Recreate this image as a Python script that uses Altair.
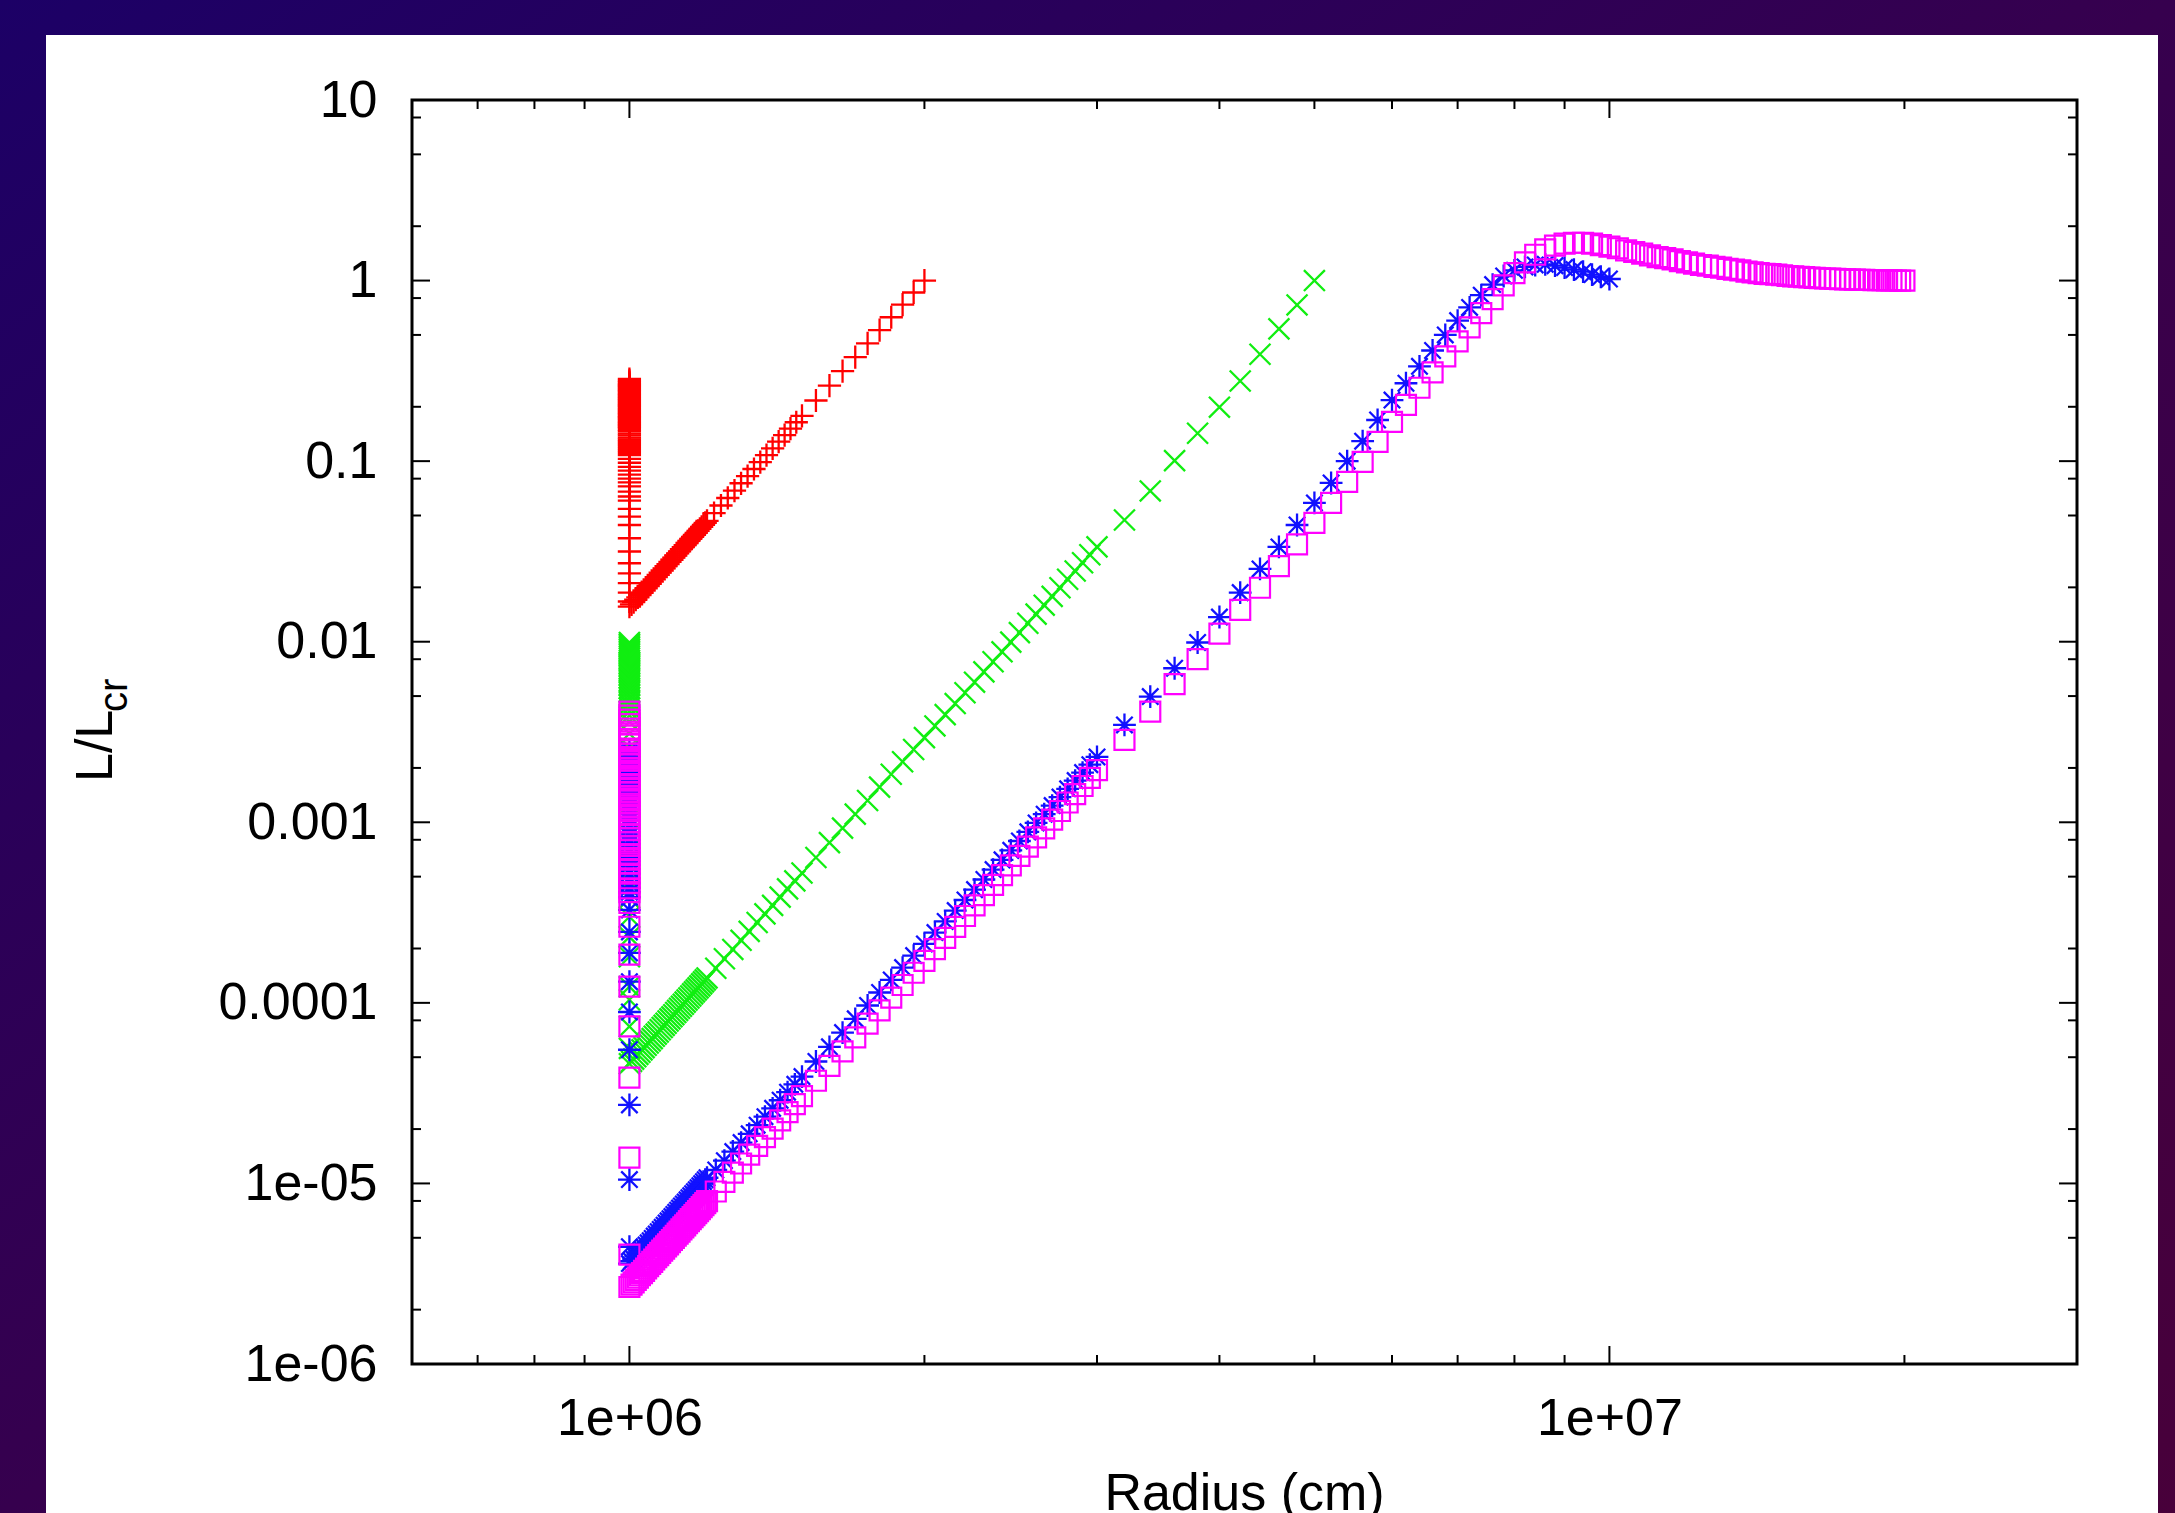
import altair as alt
import pandas as pd

W, H = 1665, 1264
FONT = "Liberation Sans"

# ---------------- data (radius in cm, L/Lcr) ----------------
R_COLUMN = 1.0e6

R_DENSE = [1.000e6, 1.005e6, 1.010e6, 1.015e6, 1.020e6, 1.025e6, 1.030e6, 1.035e6, 1.040e6, 1.045e6,
           1.050e6, 1.055e6, 1.060e6, 1.065e6, 1.070e6, 1.075e6, 1.080e6, 1.085e6, 1.090e6, 1.095e6,
           1.100e6, 1.105e6, 1.110e6, 1.115e6, 1.120e6, 1.125e6, 1.130e6, 1.135e6, 1.140e6, 1.145e6,
           1.150e6, 1.155e6, 1.160e6, 1.165e6, 1.170e6, 1.175e6, 1.180e6, 1.185e6, 1.190e6, 1.195e6,
           1.200e6]

R_MID = [1.225e6, 1.250e6, 1.275e6, 1.300e6, 1.325e6, 1.350e6, 1.375e6, 1.400e6, 1.425e6, 1.450e6,
         1.475e6, 1.500e6, 1.55e6, 1.60e6, 1.65e6, 1.70e6, 1.75e6, 1.80e6, 1.85e6, 1.90e6,
         1.95e6, 2.00e6, 2.05e6, 2.10e6, 2.15e6, 2.20e6, 2.25e6, 2.30e6, 2.35e6, 2.40e6,
         2.45e6, 2.50e6, 2.55e6, 2.60e6, 2.65e6, 2.70e6, 2.75e6, 2.80e6, 2.85e6, 2.90e6,
         2.95e6, 3.00e6]

# red (+)
RED_COLUMN = [0.285, 0.278, 0.273, 0.268, 0.264, 0.260, 0.256, 0.252, 0.248, 0.244, 0.240, 0.236,
              0.232, 0.228, 0.225, 0.221, 0.218, 0.214, 0.211, 0.207, 0.204, 0.201, 0.198, 0.194,
              0.191, 0.188, 0.185, 0.182, 0.179, 0.176, 0.174, 0.171, 0.168, 0.165, 0.163, 0.160,
              0.158, 0.155, 0.153, 0.149, 0.146, 0.142, 0.139, 0.135, 0.132, 0.129, 0.126, 0.123,
              0.120, 0.117, 0.114, 0.111, 0.108, 0.103, 0.098, 0.093, 0.0885, 0.0842, 0.0801,
              0.0762, 0.0724, 0.0678, 0.0637, 0.0605, 0.0544, 0.0493, 0.0443, 0.0374, 0.0316,
              0.0272, 0.0239, 0.0211, 0.0187, 0.0167]
RED_DENSE = [0.01563, 0.01610, 0.01659, 0.01708, 0.01760, 0.01812, 0.01866, 0.01921, 0.01977, 0.02035,
             0.02094, 0.02154, 0.02216, 0.02280, 0.02345, 0.02411, 0.02480, 0.02549, 0.02620, 0.02693,
             0.02768, 0.02844, 0.02923, 0.03002, 0.03084, 0.03168, 0.03253, 0.03340, 0.03430, 0.03521,
             0.03614, 0.03710, 0.03807, 0.03906, 0.04008, 0.04112, 0.04218, 0.04327, 0.04437, 0.04550,
             0.04666]
RED_OUTER = [(1.22e6, 0.05152), (1.24e6, 0.05680), (1.26e6, 0.06252), (1.28e6, 0.06872),
             (1.30e6, 0.07542), (1.32e6, 0.08265), (1.34e6, 0.09046), (1.36e6, 0.09887),
             (1.38e6, 0.1079), (1.40e6, 0.1177), (1.42e6, 0.1281), (1.44e6, 0.1393),
             (1.46e6, 0.1513), (1.48e6, 0.1642), (1.50e6, 0.1780), (1.55e6, 0.2167),
             (1.60e6, 0.2621), (1.65e6, 0.3153), (1.70e6, 0.3772), (1.75e6, 0.4488),
             (1.80e6, 0.5314), (1.85e6, 0.6264), (1.90e6, 0.7351), (1.95e6, 0.8591),
             (2.00e6, 1.000)]

# green (x)
GREEN_COLUMN = [0.0099, 0.0097, 0.0095, 0.0093, 0.0091, 0.0089, 0.0087, 0.0085, 0.0083, 0.0081,
                0.0079, 0.0077, 0.0075, 0.0073, 0.0071, 0.0069, 0.0067, 0.0065, 0.0063, 0.0061,
                0.0059, 0.0057, 0.0055, 0.0053, 0.0051, 0.0049, 0.0047, 0.0045, 0.0043, 0.0041,
                0.0039, 0.0036, 0.0031, 0.0026, 0.0022, 0.0018, 0.0015, 0.00125, 0.00104, 8.6e-4,
                7.1e-4, 5.8e-4, 4.7e-4, 3.8e-4, 3.0e-4, 2.32e-4, 1.8e-4, 1.23e-4, 1.04e-4, 7.4e-5,
                5.6e-5]
GREEN_DENSE = [4.60e-5, 4.74e-5, 4.88e-5, 5.03e-5, 5.18e-5, 5.33e-5, 5.49e-5, 5.65e-5, 5.82e-5, 5.99e-5,
               6.16e-5, 6.34e-5, 6.53e-5, 6.71e-5, 6.90e-5, 7.10e-5, 7.30e-5, 7.50e-5, 7.71e-5, 7.93e-5,
               8.15e-5, 8.37e-5, 8.60e-5, 8.84e-5, 9.08e-5, 9.33e-5, 9.58e-5, 9.83e-5, 1.010e-4, 1.037e-4,
               1.064e-4, 1.092e-4, 1.121e-4, 1.150e-4, 1.180e-4, 1.211e-4, 1.242e-4, 1.274e-4, 1.306e-4,
               1.340e-4, 1.374e-4]
GREEN_MID = [1.554e-4, 1.755e-4, 1.976e-4, 2.220e-4, 2.489e-4, 2.785e-4, 3.109e-4, 3.464e-4, 3.852e-4,
             4.276e-4, 4.737e-4, 5.240e-4, 6.379e-4, 7.717e-4, 9.282e-4, 1.110e-3, 1.321e-3, 1.565e-3,
             1.844e-3, 2.164e-3, 2.529e-3, 2.944e-3, 3.416e-3, 3.945e-3, 4.544e-3, 5.216e-3, 5.969e-3,
             6.810e-3, 7.747e-3, 8.791e-3, 9.949e-3, 1.123e-2, 1.265e-2, 1.421e-2, 1.593e-2, 1.782e-2,
             1.990e-2, 2.217e-2, 2.465e-2, 2.736e-2, 3.031e-2, 3.353e-2]
GREEN_OUTER = [(3.2e6, 0.0472), (3.4e6, 0.0684), (3.6e6, 0.1007), (3.8e6, 0.1427), (4.0e6, 0.199),
               (4.2e6, 0.278), (4.4e6, 0.391), (4.6e6, 0.540), (4.8e6, 0.733), (5.0e6, 1.0)]

# blue (*)
BLUE_COLUMN = [0.0025, 0.0024, 0.0023, 0.0022, 0.0021, 0.0020, 0.0019, 0.0018, 0.0017, 0.0016,
               0.00153, 0.00147, 0.00141, 0.00135, 0.00129, 0.00123, 0.00117, 0.00112, 0.00107,
               0.00102, 9.7e-4, 9.3e-4, 8.8e-4, 8.4e-4, 8.0e-4, 7.6e-4, 7.2e-4, 6.8e-4, 6.4e-4,
               6.1e-4, 5.8e-4, 5.5e-4, 5.2e-4, 4.9e-4, 4.6e-4, 4.35e-4, 4.1e-4, 3.85e-4,
               3.27e-4, 2.47e-4, 1.89e-4, 1.31e-4, 8.9e-5, 5.5e-5, 2.72e-5, 1.05e-5, 4.46e-6]
BLUE_DENSE = [3.60e-6, 3.71e-6, 3.82e-6, 3.94e-6, 4.05e-6, 4.17e-6, 4.30e-6, 4.43e-6, 4.56e-6, 4.69e-6,
              4.82e-6, 4.96e-6, 5.11e-6, 5.25e-6, 5.40e-6, 5.56e-6, 5.71e-6, 5.87e-6, 6.04e-6, 6.21e-6,
              6.38e-6, 6.55e-6, 6.73e-6, 6.92e-6, 7.11e-6, 7.30e-6, 7.50e-6, 7.70e-6, 7.90e-6, 8.11e-6,
              8.33e-6, 8.55e-6, 8.77e-6, 9.00e-6, 9.23e-6, 9.47e-6, 9.72e-6, 9.97e-6, 1.022e-5, 1.048e-5,
              1.075e-5]
BLUE_MID = [1.187e-5, 1.337e-5, 1.502e-5, 1.684e-5, 1.883e-5, 2.102e-5, 2.342e-5, 2.604e-5, 2.889e-5,
            3.200e-5, 3.538e-5, 3.906e-5, 4.735e-5, 5.709e-5, 6.841e-5, 8.154e-5, 9.670e-5, 1.141e-4,
            1.340e-4, 1.568e-4, 1.827e-4, 2.120e-4, 2.451e-4, 2.824e-4, 3.244e-4, 3.713e-4, 4.238e-4,
            4.822e-4, 5.473e-4, 6.193e-4, 6.991e-4, 7.875e-4, 8.848e-4, 9.916e-4, 1.109e-3, 1.238e-3,
            1.379e-3, 1.533e-3, 1.701e-3, 1.884e-3, 2.084e-3, 2.300e-3]
BLUE_OUTER = [(3.2e6, 3.46e-3), (3.4e6, 4.97e-3), (3.6e6, 7.13e-3), (3.8e6, 9.9e-3), (4.0e6, 0.0137),
              (4.2e6, 0.0187), (4.4e6, 0.0253), (4.6e6, 0.0335), (4.8e6, 0.0443), (5.0e6, 0.0587),
              (5.2e6, 0.0757), (5.4e6, 0.100), (5.6e6, 0.129), (5.8e6, 0.169), (6.0e6, 0.218),
              (6.2e6, 0.27), (6.4e6, 0.335), (6.6e6, 0.41), (6.8e6, 0.50), (7.0e6, 0.60),
              (7.2e6, 0.71), (7.4e6, 0.83), (7.6e6, 0.95), (7.8e6, 1.06), (8.0e6, 1.14),
              (8.2e6, 1.19), (8.4e6, 1.22), (8.6e6, 1.23), (8.8e6, 1.21), (9.0e6, 1.18),
              (9.2e6, 1.15), (9.4e6, 1.12), (9.6e6, 1.08), (9.8e6, 1.05), (10.0e6, 1.02)]

# magenta (open squares)
MAGENTA_COLUMN = [0.0041, 0.0039, 0.0037, 0.0035, 0.0033, 0.0031, 0.0029, 0.0028, 0.0027, 0.0025,
                  0.0024, 0.0023, 0.0022, 0.0021, 0.0020, 0.0019, 0.0018, 0.00175, 0.0017, 0.0016,
                  0.00153, 0.00146, 0.0014, 0.00133, 0.00127, 0.00121, 0.00115, 0.0011, 0.00105,
                  0.001, 9.5e-4, 9.1e-4, 8.6e-4, 8.2e-4, 7.8e-4, 7.4e-4, 7.0e-4, 6.6e-4, 6.2e-4,
                  5.9e-4, 5.5e-4, 5.2e-4, 4.9e-4, 4.6e-4, 4.3e-4, 4.1e-4, 3.58e-4, 2.64e-4, 1.85e-4,
                  1.23e-4, 7.4e-5, 3.85e-5, 1.39e-5, 4.03e-6]
MAGENTA_DENSE = [2.67e-6, 2.75e-6, 2.83e-6, 2.92e-6, 3.01e-6, 3.10e-6, 3.19e-6, 3.28e-6, 3.38e-6, 3.48e-6,
                 3.58e-6, 3.68e-6, 3.79e-6, 3.90e-6, 4.01e-6, 4.12e-6, 4.24e-6, 4.36e-6, 4.48e-6, 4.60e-6,
                 4.73e-6, 4.86e-6, 4.99e-6, 5.13e-6, 5.27e-6, 5.41e-6, 5.56e-6, 5.71e-6, 5.86e-6, 6.02e-6,
                 6.18e-6, 6.34e-6, 6.51e-6, 6.68e-6, 6.85e-6, 7.03e-6, 7.21e-6, 7.39e-6, 7.58e-6, 7.78e-6,
                 7.97e-6]
MAGENTA_MID = [9.02e-6, 1.019e-5, 1.147e-5, 1.289e-5, 1.445e-5, 1.616e-5, 1.804e-5, 2.010e-5, 2.236e-5,
               2.482e-5, 2.750e-5, 3.041e-5, 3.703e-5, 4.479e-5, 5.388e-5, 6.445e-5, 7.669e-5, 9.081e-5,
               1.070e-4, 1.256e-4, 1.468e-4, 1.709e-4, 1.982e-4, 2.290e-4, 2.637e-4, 3.027e-4, 3.464e-4,
               3.953e-4, 4.497e-4, 5.102e-4, 5.774e-4, 6.519e-4, 7.341e-4, 8.248e-4, 9.248e-4, 1.034e-3,
               1.155e-3, 1.287e-3, 1.431e-3, 1.588e-3, 1.760e-3, 1.946e-3]
MAGENTA_OUTER = [(3.2e6, 2.86e-3), (3.4e6, 4.10e-3), (3.6e6, 5.82e-3), (3.8e6, 8.0e-3), (4.0e6, 0.0111),
                 (4.2e6, 0.0150), (4.4e6, 0.0199), (4.6e6, 0.0262), (4.8e6, 0.0346), (5.0e6, 0.0455),
                 (5.2e6, 0.0587), (5.4e6, 0.0768), (5.6e6, 0.099), (5.8e6, 0.128), (6.0e6, 0.165),
                 (6.2e6, 0.205), (6.4e6, 0.255), (6.6e6, 0.31), (6.8e6, 0.38), (7.0e6, 0.46),
                 (7.2e6, 0.55), (7.4e6, 0.66), (7.6e6, 0.79), (7.8e6, 0.94), (8.0e6, 1.10),
                 (8.2e6, 1.26), (8.4e6, 1.39), (8.6e6, 1.49), (8.8e6, 1.56), (9.0e6, 1.60),
                 (9.2e6, 1.62), (9.4e6, 1.62), (9.6e6, 1.60), (9.8e6, 1.57), (10.0e6, 1.54),
                 (10.2e6, 1.51), (10.4e6, 1.47), (10.6e6, 1.44), (10.8e6, 1.41), (11.0e6, 1.38),
                 (11.2e6, 1.35), (11.4e6, 1.33), (11.6e6, 1.31), (11.8e6, 1.28), (12.0e6, 1.26),
                 (12.2e6, 1.24), (12.4e6, 1.22), (12.6e6, 1.21), (12.8e6, 1.19), (13.0e6, 1.18),
                 (13.2e6, 1.16), (13.4e6, 1.15), (13.6e6, 1.14), (13.8e6, 1.12), (14.0e6, 1.11),
                 (14.2e6, 1.10), (14.4e6, 1.09), (14.6e6, 1.085), (14.8e6, 1.08), (15.0e6, 1.07),
                 (15.2e6, 1.06), (15.4e6, 1.055), (15.6e6, 1.05), (15.8e6, 1.045), (16.0e6, 1.04),
                 (16.2e6, 1.035), (16.4e6, 1.03), (16.6e6, 1.027), (16.8e6, 1.024), (17.0e6, 1.021),
                 (17.2e6, 1.018), (17.4e6, 1.016), (17.6e6, 1.014), (17.8e6, 1.012), (18.0e6, 1.010),
                 (18.2e6, 1.008), (18.4e6, 1.007), (18.6e6, 1.006), (18.8e6, 1.005), (19.0e6, 1.004),
                 (19.2e6, 1.003), (19.4e6, 1.002), (19.6e6, 1.001), (19.8e6, 1.000), (20.0e6, 1.000)]

# axes
X_MAJOR = [1e6, 1e7]
X_LABELS = ["1e+06", "1e+07"]
X_MINOR = [7e5, 8e5, 9e5, 2e6, 3e6, 4e6, 5e6, 6e6, 7e6, 8e6, 9e6, 2e7]
Y_MAJOR = [1e-6, 1e-5, 1e-4, 1e-3, 1e-2, 0.1, 1, 10]
Y_LABELS = ["1e-06", "1e-05", "0.0001", "0.001", "0.01", "0.1", "1", "10"]
Y_MINOR = [2e-6, 5e-6, 8e-6, 2e-5, 5e-5, 8e-5, 2e-4, 5e-4, 8e-4, 2e-3, 5e-3, 8e-3,
           2e-2, 5e-2, 8e-2, 0.2, 0.5, 0.8, 2, 5, 8]


def label_expr(vals, labs):
    expr = "''"
    for v, lab in reversed(list(zip(vals, labs))):
        expr = f"datum.value < {v * 1.5} ? '{lab}' : ({expr})"
    return expr


xscale = alt.Scale(type="log", domain=[6e5, 3e7], nice=False)
yscale = alt.Scale(type="log", domain=[1e-6, 10], nice=False)

common_axis = dict(ticks=False, tickSize=0, domain=False, grid=False, labelFont=FONT,
                   labelFontSize=52, labelColor="black", title=None, zindex=1,
                   labelOverlap=False, labelFlush=False)
xaxis = alt.Axis(values=X_MAJOR, labelExpr=label_expr(X_MAJOR, X_LABELS), labelPadding=29, **common_axis)
yaxis = alt.Axis(values=Y_MAJOR, labelExpr=label_expr(Y_MAJOR, Y_LABELS), labelPadding=35, **common_axis)

X = alt.X("r:Q", scale=xscale, axis=xaxis)
Y = alt.Y("L:Q", scale=yscale, axis=yaxis)

PLUS = "M-1,0H1M0,-1V1"
CROSS = "M-1,-1L1,1M-1,1L1,-1"
STAR = "M-1,0H1M0,-1V1M-0.72,-0.72L0.72,0.72M-0.72,0.72L0.72,-0.72"


def series_frame(column, dense, mid_r, mid, outer):
    rs = [R_COLUMN] * len(column) + R_DENSE + mid_r + [p[0] for p in outer]
    ls = column + dense + mid + [p[1] for p in outer]
    return pd.DataFrame({"r": rs, "L": ls})


def series(df, shape, color, size, sw=2.3):
    return alt.Chart(df).mark_point(shape=shape, filled=False, color=color, strokeWidth=sw,
                                    size=size, opacity=1).encode(x=X, y=Y)


red = series(series_frame(RED_COLUMN, RED_DENSE, [], [], RED_OUTER), PLUS, "#ff0000", 540)
green = series(series_frame(GREEN_COLUMN, GREEN_DENSE, R_MID, GREEN_MID, GREEN_OUTER), CROSS, "#11ee11", 440)
blue = series(series_frame(BLUE_COLUMN, BLUE_DENSE, R_MID, BLUE_MID, BLUE_OUTER), STAR, "#1111ff", 520)
magenta = series(series_frame(MAGENTA_COLUMN, MAGENTA_DENSE, R_MID, MAGENTA_MID, MAGENTA_OUTER),
                 "square", "#ff00ff", 400, 2.2)

one = alt.Data(values=[{"k": 0}])

bg = alt.Chart(one).mark_rect(
    color=alt.Gradient(gradient="linear",
                       stops=[alt.GradientStop(color="#1c0066", offset=0),
                              alt.GradientStop(color="#36004e", offset=0.5),
                              alt.GradientStop(color="#48003a", offset=1)],
                       x1=0, y1=0, x2=1, y2=1)
).encode(x=alt.value(-412), x2=alt.value(W + 98), y=alt.value(-100), y2=alt.value(H + 149))

panel = alt.Chart(one).mark_rect(color="white").encode(
    x=alt.value(46 - 412), x2=alt.value(2158 - 412), y=alt.value(35 - 100), y2=alt.value(H + 160))


def xticks(vals, length, top):
    df = pd.DataFrame({"r": vals})
    if top:
        yy, yy2 = alt.value(0), alt.value(length)
    else:
        yy, yy2 = alt.value(H), alt.value(H - length)
    return alt.Chart(df).mark_rule(color="black", strokeWidth=2).encode(x=X, y=yy, y2=yy2)


def yticks(vals, length, right):
    df = pd.DataFrame({"L": vals})
    if right:
        xx, xx2 = alt.value(W), alt.value(W - length)
    else:
        xx, xx2 = alt.value(0), alt.value(length)
    return alt.Chart(df).mark_rule(color="black", strokeWidth=2).encode(y=Y, x=xx, x2=xx2)


ticks = [xticks(X_MAJOR, 18, False), xticks(X_MAJOR, 18, True),
         xticks(X_MINOR, 9, False), xticks(X_MINOR, 9, True),
         yticks(Y_MAJOR, 18, False), yticks(Y_MAJOR, 18, True),
         yticks(Y_MINOR, 9, False), yticks(Y_MINOR, 9, True)]

frame = alt.Chart(one).mark_rect(fillOpacity=0, stroke="black", strokeWidth=3).encode(
    x=alt.value(0), x2=alt.value(W), y=alt.value(0), y2=alt.value(H))

ytitle_main = alt.Chart(one).mark_text(angle=270, align="left", baseline="alphabetic", font=FONT,
                                       fontSize=52, color="black").encode(
    x=alt.value(-300), y=alt.value(682), text=alt.value("L/L"))
ytitle_sub = alt.Chart(one).mark_text(angle=270, align="left", baseline="alphabetic", font=FONT,
                                      fontSize=40, color="black").encode(
    x=alt.value(-285), y=alt.value(612), text=alt.value("cr"))
xtitle = alt.Chart(one).mark_text(align="center", baseline="alphabetic", font=FONT,
                                  fontSize=52, color="black").encode(
    x=alt.value(W / 2), y=alt.value(1410), text=alt.value("Radius (cm)"))

chart = alt.layer(bg, panel, *ticks, red, green, blue, magenta, frame,
                  ytitle_main, ytitle_sub, xtitle).properties(
    width=W, height=H,
    autosize=alt.AutoSizeParams(type="none"),
    padding={"left": 412, "top": 100, "right": 98, "bottom": 149},
).configure(background="#2a0058").configure_view(stroke=None)

chart.save("out.html", embed_options={"renderer": "svg", "actions": False})
